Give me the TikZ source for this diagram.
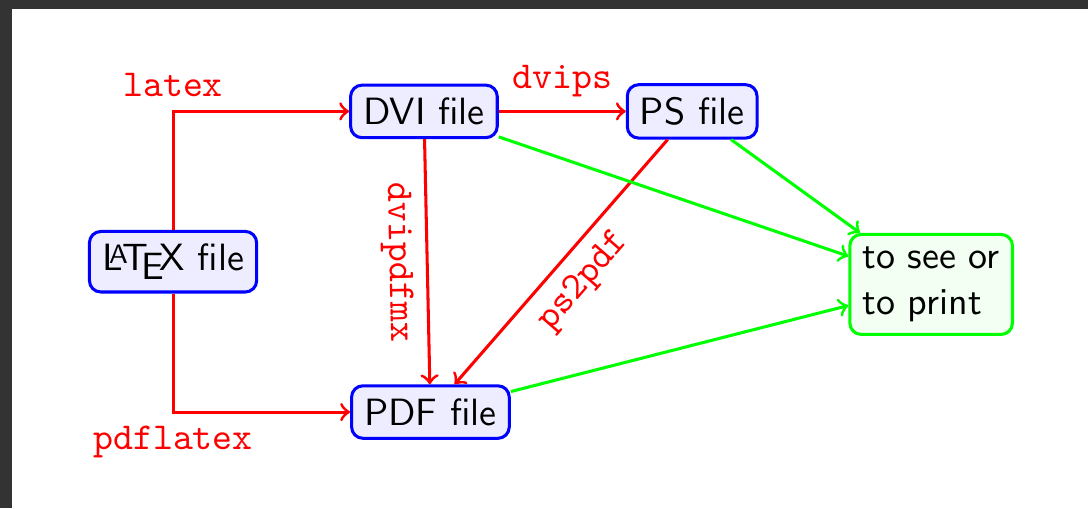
\documentclass[tikz,border=0pt]{standalone}
\usepackage{tikz}
\usetikzlibrary{arrows, positioning}
\definecolor{framegray}{HTML}{333333}
\tikzset{
    file/.style={draw=blue, fill=blue!7, thick, rounded corners=3pt, font=\sffamily},
    goal/.style={draw=green, fill=green!5, thick, rounded corners=3pt, font=\sffamily, align=left},
    prog/.style={red, thick, ->},
    view/.style={green, thick, ->},
    cmd/.style={font=\ttfamily, text=red}
}

\begin{document}
\begin{tikzpicture}
    \fill[framegray] (0, 0) rectangle (10.06, 4.70);
    \fill[white] (0.11, 0) rectangle (10.06, 4.62);
    \node[file] (tex) at (1.60, 2.28) {\LaTeX{} file};
    \node[file] (dvi) at (3.92, 3.67) {DVI file};
    \node[file] (ps) at (6.40, 3.67) {PS file};
    \node[file] (pdf) at (3.98, 0.89) {PDF file};
    \node[goal] (out) at (8.61, 2.07) {to see or\\to print};
    \draw[prog] (tex) |- node[above, cmd] {latex} (dvi);
    \draw[prog] (tex) |- node[below, cmd] {pdflatex} (pdf);
    \draw[prog] (dvi) -- node[above, cmd] {dvips} (ps);
    \draw[prog] (dvi) -- node[sloped, below, cmd] {dvipdfmx} (pdf);
    \draw[prog] (ps) -- node[sloped, below, cmd] {ps2pdf} (pdf);
    \draw[view] (dvi) -- (out);
    \draw[view] (ps) -- (out);
    \draw[view] (pdf) -- (out);
\end{tikzpicture}
\end{document}
